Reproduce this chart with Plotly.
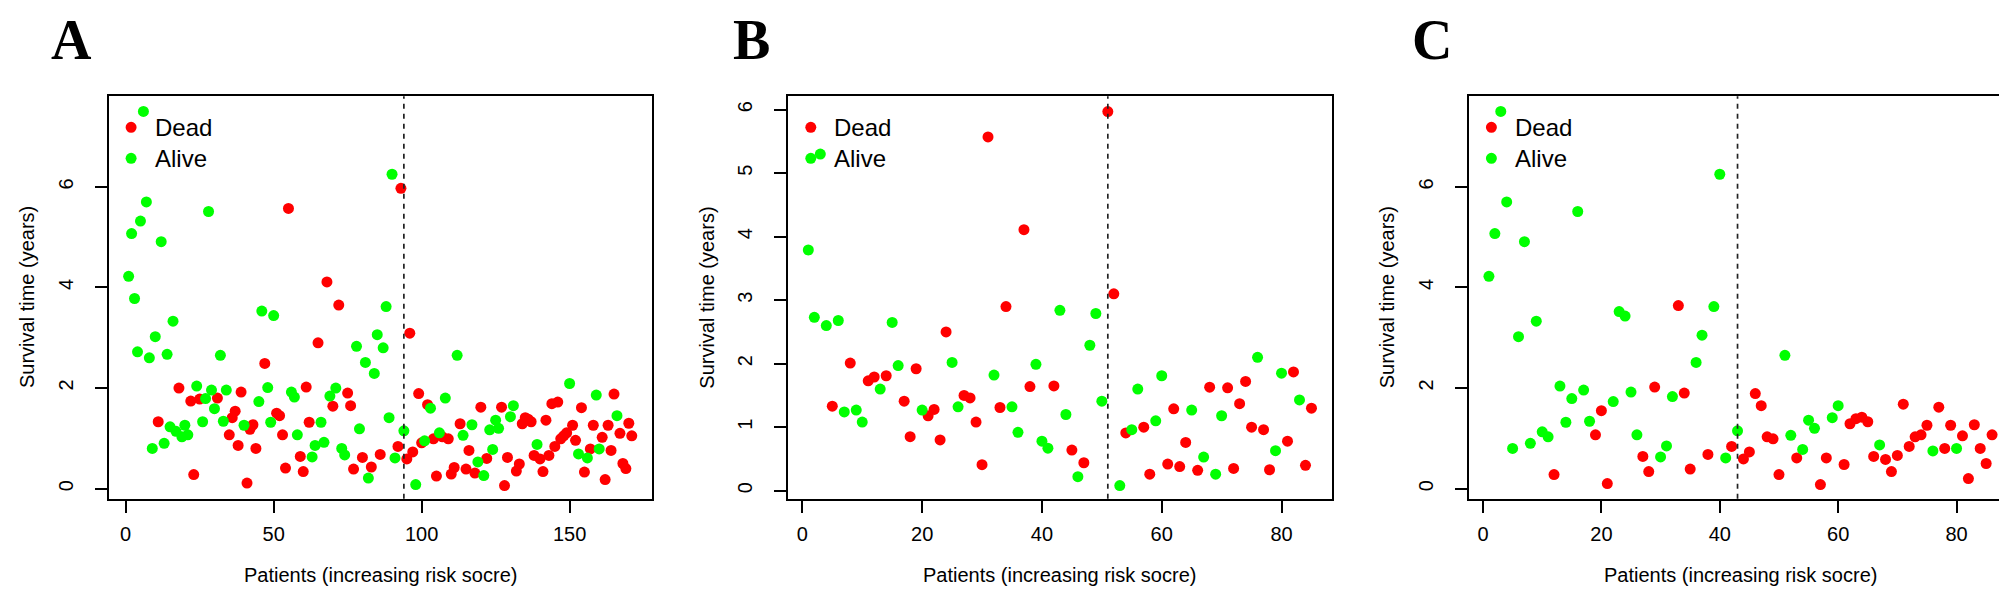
import plotly.graph_objects as go

# ---------------- data (survival time in years, status 1=Dead 0=Alive), patients ordered by risk score
a_time = [4.22, 5.07, 3.78, 2.72, 5.32, 7.50, 5.70, 2.60, 0.80, 3.02,
          1.33, 4.91, 0.90, 2.67, 1.23, 3.33, 1.14, 2.00, 1.03, 1.26,
          1.07, 1.74, 0.28, 2.04, 1.78, 1.33, 1.79, 5.51, 1.96, 1.59,
          1.80, 2.65, 1.34, 1.96, 1.07, 1.41, 1.54, 0.86, 1.92, 1.26,
          0.11, 1.18, 1.27, 0.80, 1.73, 3.53, 2.49, 2.01, 1.32, 3.44,
          1.50, 1.45, 1.07, 0.41, 5.57, 1.92, 1.82, 1.07, 0.64, 0.34,
          2.02, 1.32, 0.63, 0.86, 2.90, 1.32, 0.92, 4.11, 1.84, 1.64,
          2.00, 3.65, 0.80, 0.67, 1.90, 1.65, 0.39, 2.83, 1.19, 0.62,
          2.51, 0.21, 0.43, 2.29, 3.06, 0.68, 2.80, 3.62, 1.41, 6.25,
          0.61, 0.84, 5.97, 1.15, 0.59, 3.09, 0.73, 0.08, 1.89, 0.91,
          0.95, 1.67, 1.60, 0.99, 0.25, 1.11, 1.03, 1.80, 0.99, 0.29,
          0.42, 2.65, 1.29, 1.06, 0.39, 0.76, 1.27, 0.31, 0.53, 1.62,
          0.26, 0.60, 1.17, 0.78, 1.36, 1.20, 1.62, 0.06, 0.62, 1.43,
          1.65, 0.35, 0.49, 1.29, 1.41, 1.38, 1.33, 0.66, 0.88, 0.59,
          0.34, 1.36, 0.66, 1.69, 0.84, 1.72, 0.99, 1.05, 1.11, 2.09,
          1.26, 0.96, 0.69, 1.61, 0.33, 0.61, 0.79, 1.26, 1.86, 0.79,
          1.02, 0.18, 1.26, 0.76, 1.88, 1.45, 1.10, 0.50, 0.40, 1.30,
          1.05]
a_status = [0, 0, 0, 0, 0, 0, 0, 0, 0, 0,
            1, 0, 0, 0, 0, 0, 0, 1, 0, 0,
            0, 1, 1, 0, 1, 0, 0, 0, 0, 0,
            1, 0, 0, 0, 1, 1, 1, 1, 1, 0,
            1, 1, 1, 1, 0, 0, 1, 0, 0, 0,
            1, 1, 1, 1, 1, 0, 0, 0, 1, 1,
            1, 1, 0, 0, 1, 0, 0, 1, 0, 1,
            0, 1, 0, 0, 1, 1, 1, 0, 0, 1,
            0, 0, 1, 0, 0, 1, 0, 0, 0, 0,
            0, 1, 1, 0, 1, 1, 1, 0, 1, 1,
            0, 1, 0, 1, 1, 0, 1, 0, 1, 1,
            1, 0, 1, 0, 1, 1, 0, 1, 0, 1,
            0, 1, 0, 0, 0, 0, 1, 1, 1, 0,
            0, 1, 1, 1, 1, 1, 1, 1, 0, 1,
            1, 1, 1, 1, 1, 1, 1, 1, 1, 0,
            1, 1, 0, 1, 1, 0, 1, 1, 0, 0,
            1, 1, 1, 1, 1, 0, 1, 1, 1, 1,
            1]

b_time = [3.79, 2.73, 5.30, 2.60, 1.33, 2.68, 1.24, 2.01, 1.27, 1.08,
          1.73, 1.79, 1.60, 1.81, 2.65, 1.97, 1.41, 0.85, 1.92, 1.27,
          1.18, 1.28, 0.80, 2.50, 2.02, 1.32, 1.50, 1.46, 1.08, 0.41,
          5.57, 1.82, 1.31, 2.90, 1.32, 0.92, 4.11, 1.64, 1.99, 0.78,
          0.67, 1.65, 2.84, 1.20, 0.64, 0.22, 0.44, 2.29, 2.79, 1.41,
          5.97, 3.10, 0.08, 0.91, 0.96, 1.60, 1.00, 0.26, 1.10, 1.81,
          0.42, 1.29, 0.38, 0.76, 1.27, 0.32, 0.53, 1.63, 0.26, 1.18,
          1.62, 0.35, 1.37, 1.72, 1.00, 2.10, 0.96, 0.33, 0.63, 1.85,
          0.78, 1.87, 1.43, 0.40, 1.30]
b_status = [0, 0, 0, 0, 1, 0, 0, 1, 0, 0,
            1, 1, 0, 1, 0, 0, 1, 1, 1, 0,
            1, 1, 1, 1, 0, 0, 1, 1, 1, 1,
            1, 0, 1, 1, 0, 0, 1, 1, 0, 0,
            0, 1, 0, 0, 1, 0, 1, 0, 0, 0,
            1, 1, 0, 1, 0, 0, 1, 1, 0, 0,
            1, 1, 1, 1, 0, 1, 0, 1, 0, 0,
            1, 1, 1, 1, 1, 0, 1, 1, 0, 0,
            1, 1, 0, 1, 1]

c_time = [4.22, 5.07, 7.50, 5.70, 0.80, 3.02, 4.91, 0.90, 3.33, 1.13,
          1.03, 0.28, 2.04, 1.32, 1.79, 5.51, 1.96, 1.34, 1.07, 1.55,
          0.10, 1.73, 3.52, 3.43, 1.92, 1.07, 0.64, 0.34, 2.02, 0.63,
          0.85, 1.83, 3.64, 1.90, 0.39, 2.51, 3.05, 0.68, 3.62, 6.25,
          0.61, 0.84, 1.15, 0.59, 0.73, 1.89, 1.65, 1.03, 0.99, 0.28,
          2.65, 1.06, 0.61, 0.78, 1.36, 1.20, 0.08, 0.61, 1.41, 1.65,
          0.48, 1.29, 1.39, 1.42, 1.33, 0.64, 0.87, 0.58, 0.34, 0.66,
          1.68, 0.84, 1.03, 1.07, 1.26, 0.75, 1.62, 0.80, 1.26, 0.80,
          1.05, 0.20, 1.27, 0.80, 0.50, 1.07]
c_status = [0, 0, 0, 0, 0, 0, 0, 0, 0, 0,
            0, 1, 0, 0, 0, 0, 0, 0, 1, 1,
            1, 0, 0, 0, 0, 0, 1, 1, 1, 0,
            0, 0, 1, 1, 1, 0, 0, 1, 0, 0,
            0, 1, 0, 1, 1, 1, 1, 1, 1, 1,
            0, 0, 1, 0, 0, 0, 1, 1, 0, 0,
            1, 1, 1, 1, 1, 1, 0, 1, 1, 1,
            1, 1, 1, 1, 1, 0, 1, 1, 1, 0,
            1, 1, 1, 1, 1, 1]

cutoffs = [94, 51, 43]
panel_letters = ["A", "B", "C"]
x_ticks = [[0, 50, 100, 150], [0, 20, 40, 60, 80], [0, 20, 40, 60, 80]]
y_ticks = [[0, 2, 4, 6], [0, 1, 2, 3, 4, 5, 6], [0, 2, 4, 6]]
status_names = {1: "Dead", 0: "Alive"}

# ---------------- styling
W, H = 2007, 597
RED, GREEN = "#FF0000", "#00FF00"
FONT = "Liberation Sans, Arial, sans-serif"
box_left_px = [100.5, 780.2, 1460.8]
box_w_px = 543.4
box_top_px, box_bot_px = 88.3, 490.7
y_ranges = [[-0.2, 7.8], [-0.126, 6.21], [-0.2, 7.8]]

panels = [(a_time, a_status), (b_time, b_status), (c_time, c_status)]

fig = go.Figure()
shapes, annotations = [], []
ydom = [1 - box_bot_px / H, 1 - box_top_px / H]

for k, (times, status) in enumerate(panels):
    n = len(times)
    idx = list(range(1, n + 1))
    xa = "x" if k == 0 else f"x{k+1}"
    ya = "y" if k == 0 else f"y{k+1}"
    for st, col in ((1, RED), (0, GREEN)):
        xs = [i for i, s in zip(idx, status) if s == st]
        ys = [t for t, s in zip(times, status) if s == st]
        fig.add_trace(go.Scatter(x=xs, y=ys, mode="markers", xaxis=xa, yaxis=ya,
                                 marker=dict(size=11, color=col, line=dict(width=0)),
                                 name=status_names[st], showlegend=False))
    pad = 0.04 * (n - 1)
    xr = [1 - pad, n + pad]
    l = box_left_px[k]
    dom = [l / W, (l + box_w_px) / W]
    axcommon = dict(showline=True, mirror=True, linecolor="black", linewidth=1.6,
                    ticks="outside", ticklen=12, tickwidth=1.6, tickcolor="black",
                    showgrid=False, zeroline=False,
                    tickfont=dict(family=FONT, size=20, color="black"))
    fig.layout[("xaxis" if k == 0 else f"xaxis{k+1}")] = dict(
        domain=dom, range=xr, anchor=ya, tickvals=x_ticks[k], ticklabelstandoff=4, **axcommon)
    fig.layout[("yaxis" if k == 0 else f"yaxis{k+1}")] = dict(
        domain=ydom, range=y_ranges[k], anchor=xa, tickvals=y_ticks[k], tickangle=-90,
        ticklabelstandoff=14, **axcommon)

    xdom_ref = xa + " domain"
    ydom_ref = ya + " domain"
    # cutoff dashed line
    shapes.append(dict(type="line", xref=xa, yref=ydom_ref, x0=cutoffs[k], x1=cutoffs[k],
                       y0=0, y1=1, line=dict(color="#222222", width=1.7, dash="5px,5px")))
    # legend (no box)
    for j, (st, col) in enumerate(((1, RED), (0, GREEN))):
        yoff = -31 - 31 * j
        shapes.append(dict(type="circle", xref=xdom_ref, yref=ydom_ref,
                           xsizemode="pixel", ysizemode="pixel", xanchor=0, yanchor=1,
                           x0=22.6 - 5.5, x1=22.6 + 5.5, y0=yoff - 5.5, y1=yoff + 5.5,
                           fillcolor=col, line=dict(width=0)))
        annotations.append(dict(text=status_names[st], xref=xdom_ref, yref=ydom_ref,
                                x=0, y=1, xshift=44, yshift=yoff, xanchor="left", yanchor="middle",
                                showarrow=False, font=dict(family=FONT, size=24, color="black")))
    # axis titles
    annotations.append(dict(text="Patients (increasing risk socre)", xref="paper", yref="paper",
                            x=(l + box_w_px / 2) / W, y=1 - 567 / H, xanchor="center", yanchor="middle",
                            showarrow=False, font=dict(family=FONT, size=20, color="black")))
    annotations.append(dict(text="Survival time (years)", xref="paper", yref="paper",
                            x=(l - 82) / W, y=1 - (box_top_px + box_bot_px) / 2 / H,
                            xanchor="center", yanchor="middle", textangle=-90,
                            showarrow=False, font=dict(family=FONT, size=20, color="black")))
    # panel letter
    annotations.append(dict(text="<b>%s</b>" % panel_letters[k], xref="paper", yref="paper",
                            x=(l - 37) / W, y=1 - 32 / H, xanchor="center", yanchor="middle",
                            borderpad=0, showarrow=False,
                            font=dict(family="Liberation Serif, Times New Roman, serif", size=56,
                                      color="black")))

fig.update_layout(width=W, height=H, margin=dict(l=0, r=0, t=0, b=0),
                  paper_bgcolor="white", plot_bgcolor="white",
                  shapes=shapes, annotations=annotations, showlegend=False)
fig.write_html("out.html")
